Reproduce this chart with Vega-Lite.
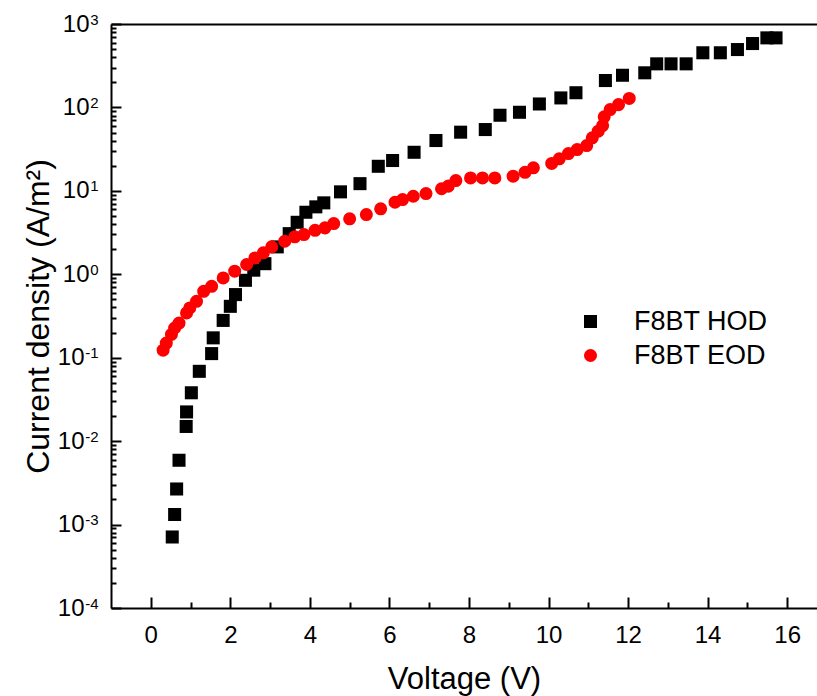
{
  "$schema": "https://vega.github.io/schema/vega-lite/v6.json",
  "width": 706,
  "height": 584,
  "autosize": {"type": "none"},
  "padding": {"left": 111, "top": 24, "right": 0, "bottom": 88},
  "background": "white",
  "config": {
    "view": {"stroke": null},
    "font": "Liberation Sans",
    "axis": {
      "domainColor": "black", "domainWidth": 2, "tickColor": "black", "tickWidth": 2,
      "grid": false, "labelColor": "black", "titleColor": "black",
      "labelFont": "Liberation Sans", "titleFont": "Liberation Sans", "titleFontWeight": "normal"
    }
  },
  "data": {"values": [
    {"series": "F8BT HOD", "V": 0.54, "J": 0.00071},
    {"series": "F8BT HOD", "V": 0.60, "J": 0.00132},
    {"series": "F8BT HOD", "V": 0.65, "J": 0.00267},
    {"series": "F8BT HOD", "V": 0.71, "J": 0.0059},
    {"series": "F8BT HOD", "V": 0.89, "J": 0.015},
    {"series": "F8BT HOD", "V": 0.90, "J": 0.0224},
    {"series": "F8BT HOD", "V": 1.02, "J": 0.038},
    {"series": "F8BT HOD", "V": 1.22, "J": 0.0687},
    {"series": "F8BT HOD", "V": 1.53, "J": 0.112},
    {"series": "F8BT HOD", "V": 1.57, "J": 0.173},
    {"series": "F8BT HOD", "V": 1.82, "J": 0.28},
    {"series": "F8BT HOD", "V": 2.00, "J": 0.413},
    {"series": "F8BT HOD", "V": 2.13, "J": 0.571},
    {"series": "F8BT HOD", "V": 2.38, "J": 0.847},
    {"series": "F8BT HOD", "V": 2.59, "J": 1.12},
    {"series": "F8BT HOD", "V": 2.87, "J": 1.34},
    {"series": "F8BT HOD", "V": 3.18, "J": 2.13},
    {"series": "F8BT HOD", "V": 3.48, "J": 3.07},
    {"series": "F8BT HOD", "V": 3.68, "J": 4.2},
    {"series": "F8BT HOD", "V": 3.90, "J": 5.54},
    {"series": "F8BT HOD", "V": 4.15, "J": 6.43},
    {"series": "F8BT HOD", "V": 4.35, "J": 7.18},
    {"series": "F8BT HOD", "V": 4.77, "J": 9.73},
    {"series": "F8BT HOD", "V": 5.26, "J": 12.2},
    {"series": "F8BT HOD", "V": 5.72, "J": 19.7},
    {"series": "F8BT HOD", "V": 6.08, "J": 23.1},
    {"series": "F8BT HOD", "V": 6.62, "J": 29},
    {"series": "F8BT HOD", "V": 7.17, "J": 40.1},
    {"series": "F8BT HOD", "V": 7.79, "J": 50.5},
    {"series": "F8BT HOD", "V": 8.41, "J": 54.3},
    {"series": "F8BT HOD", "V": 8.78, "J": 80.6},
    {"series": "F8BT HOD", "V": 9.27, "J": 87.5},
    {"series": "F8BT HOD", "V": 9.77, "J": 110},
    {"series": "F8BT HOD", "V": 10.31, "J": 130},
    {"series": "F8BT HOD", "V": 10.69, "J": 150},
    {"series": "F8BT HOD", "V": 11.43, "J": 210},
    {"series": "F8BT HOD", "V": 11.86, "J": 243},
    {"series": "F8BT HOD", "V": 12.42, "J": 260},
    {"series": "F8BT HOD", "V": 12.72, "J": 333},
    {"series": "F8BT HOD", "V": 13.08, "J": 333},
    {"series": "F8BT HOD", "V": 13.46, "J": 333},
    {"series": "F8BT HOD", "V": 13.88, "J": 452},
    {"series": "F8BT HOD", "V": 14.32, "J": 452},
    {"series": "F8BT HOD", "V": 14.75, "J": 494},
    {"series": "F8BT HOD", "V": 15.13, "J": 583},
    {"series": "F8BT HOD", "V": 15.49, "J": 682},
    {"series": "F8BT HOD", "V": 15.72, "J": 682},
    {"series": "F8BT EOD", "V": 0.31, "J": 0.123},
    {"series": "F8BT EOD", "V": 0.39, "J": 0.15},
    {"series": "F8BT EOD", "V": 0.52, "J": 0.19},
    {"series": "F8BT EOD", "V": 0.60, "J": 0.227},
    {"series": "F8BT EOD", "V": 0.71, "J": 0.26},
    {"series": "F8BT EOD", "V": 0.90, "J": 0.344},
    {"series": "F8BT EOD", "V": 0.98, "J": 0.395},
    {"series": "F8BT EOD", "V": 1.15, "J": 0.474},
    {"series": "F8BT EOD", "V": 1.33, "J": 0.625},
    {"series": "F8BT EOD", "V": 1.53, "J": 0.718},
    {"series": "F8BT EOD", "V": 1.82, "J": 0.905},
    {"series": "F8BT EOD", "V": 2.11, "J": 1.09},
    {"series": "F8BT EOD", "V": 2.41, "J": 1.31},
    {"series": "F8BT EOD", "V": 2.62, "J": 1.57},
    {"series": "F8BT EOD", "V": 2.83, "J": 1.81},
    {"series": "F8BT EOD", "V": 3.04, "J": 2.13},
    {"series": "F8BT EOD", "V": 3.37, "J": 2.49},
    {"series": "F8BT EOD", "V": 3.62, "J": 2.81},
    {"series": "F8BT EOD", "V": 3.85, "J": 2.99},
    {"series": "F8BT EOD", "V": 4.13, "J": 3.37},
    {"series": "F8BT EOD", "V": 4.38, "J": 3.6},
    {"series": "F8BT EOD", "V": 4.60, "J": 4.06},
    {"series": "F8BT EOD", "V": 5.00, "J": 4.62},
    {"series": "F8BT EOD", "V": 5.42, "J": 5.2},
    {"series": "F8BT EOD", "V": 5.78, "J": 6.1},
    {"series": "F8BT EOD", "V": 6.14, "J": 7.3},
    {"series": "F8BT EOD", "V": 6.33, "J": 7.87},
    {"series": "F8BT EOD", "V": 6.60, "J": 8.62},
    {"series": "F8BT EOD", "V": 6.92, "J": 9.29},
    {"series": "F8BT EOD", "V": 7.31, "J": 10.6},
    {"series": "F8BT EOD", "V": 7.48, "J": 11.4},
    {"series": "F8BT EOD", "V": 7.67, "J": 13.3},
    {"series": "F8BT EOD", "V": 8.04, "J": 14.3},
    {"series": "F8BT EOD", "V": 8.34, "J": 14.3},
    {"series": "F8BT EOD", "V": 8.65, "J": 14.3},
    {"series": "F8BT EOD", "V": 9.11, "J": 15},
    {"series": "F8BT EOD", "V": 9.41, "J": 16.7},
    {"series": "F8BT EOD", "V": 9.62, "J": 18.9},
    {"series": "F8BT EOD", "V": 10.08, "J": 21.3},
    {"series": "F8BT EOD", "V": 10.27, "J": 24.2},
    {"series": "F8BT EOD", "V": 10.50, "J": 28},
    {"series": "F8BT EOD", "V": 10.72, "J": 31.3},
    {"series": "F8BT EOD", "V": 10.96, "J": 34.9},
    {"series": "F8BT EOD", "V": 11.10, "J": 43.2},
    {"series": "F8BT EOD", "V": 11.25, "J": 51.9},
    {"series": "F8BT EOD", "V": 11.36, "J": 60.7},
    {"series": "F8BT EOD", "V": 11.40, "J": 77.1},
    {"series": "F8BT EOD", "V": 11.55, "J": 94.4},
    {"series": "F8BT EOD", "V": 11.76, "J": 108},
    {"series": "F8BT EOD", "V": 12.03, "J": 128}
  ]},
  "layer": [
    {
      "mark": {"type": "point", "filled": true, "opacity": 1, "size": 170},
      "encoding": {
        "x": {
          "field": "V", "type": "quantitative",
          "scale": {"domain": [-1, 16.75], "nice": false, "zero": false},
          "axis": {
            "orient": "bottom", "values": [0, 2, 4, 6, 8, 10, 12, 14, 16],
            "tickSize": -11, "labelPadding": 26, "labelFontSize": 24,
            "title": "Voltage (V)", "titleFontSize": 31, "titlePadding": 17
          }
        },
        "y": {
          "field": "J", "type": "quantitative",
          "scale": {"type": "log", "domain": [0.0001, 1000], "nice": false},
          "axis": {
            "orient": "left",
            "values": [0.0001, 0.001, 0.01, 0.1, 1, 10, 100, 1000],
            "tickSize": -10,
            "labelPadding": {"condition": {"test": "datum.value < 0.5", "value": 37}, "value": 32},
            "labelFontSize": 24,
            "labelExpr": "'10'",
            "title": "Current density (A/m²)", "titleFontSize": 32, "titlePadding": 2
          }
        },
        "color": {
          "field": "series", "type": "nominal",
          "scale": {"domain": ["F8BT HOD", "F8BT EOD"], "range": ["#000000", "#ff0000"]},
          "legend": {"orient": "none", "legendX": 466, "legendY": 284, "title": null, "labelFontSize": 27, "labelFont": "Liberation Sans", "labelColor": "black", "symbolSize": 170, "labelOffset": 30, "rowPadding": 6, "padding": 0}
        },
        "shape": {
          "field": "series", "type": "nominal",
          "scale": {"domain": ["F8BT HOD", "F8BT EOD"], "range": ["square", "circle"]},
          "legend": {"orient": "none", "legendX": 466, "legendY": 284, "title": null, "labelFontSize": 27, "labelFont": "Liberation Sans", "labelColor": "black", "symbolSize": 170, "labelOffset": 30, "rowPadding": 6, "padding": 0}
        }
      }
    },
    {
      "mark": {"type": "point", "opacity": 0},
      "encoding": {
        "x": {
          "field": "V", "type": "quantitative",
          "axis": {"orient": "bottom", "values": [1, 3, 5, 7, 9, 11, 13, 15], "tickSize": -6, "labels": false, "domain": false, "title": null}
        },
        "y": {
          "field": "J", "type": "quantitative",
          "axis": {
            "orient": "left",
            "values": [0.0002, 0.0003, 0.0004, 0.0005, 0.0006, 0.0007, 0.0008, 0.0009,
                       0.002, 0.003, 0.004, 0.005, 0.006, 0.007, 0.008, 0.009,
                       0.02, 0.03, 0.04, 0.05, 0.06, 0.07, 0.08, 0.09,
                       0.2, 0.3, 0.4, 0.5, 0.6, 0.7, 0.8, 0.9,
                       2, 3, 4, 5, 6, 7, 8, 9,
                       20, 30, 40, 50, 60, 70, 80, 90,
                       200, 300, 400, 500, 600, 700, 800, 900],
            "tickSize": -5, "labels": false, "domain": false, "title": null
          }
        }
      }
    },
    {
      "mark": {"type": "point", "opacity": 0},
      "encoding": {
        "x": {
          "field": "V", "type": "quantitative",
          "axis": {"orient": "top", "ticks": false, "labels": false, "domain": true, "title": null}
        },
        "y": {
          "field": "J", "type": "quantitative",
          "axis": {
            "orient": "left",
            "values": [0.0001, 0.001, 0.01, 0.1, 1, 10, 100, 1000],
            "tickSize": -10, "tickColor": "transparent", "domain": false,
            "labelPadding": 23, "labelFontSize": 15, "labelOffset": -5,
            "labelExpr": "datum.value >= 999 ? '3' : datum.value >= 99 ? '2' : datum.value >= 9 ? '1' : datum.value >= 0.9 ? '0' : datum.value >= 0.09 ? '-1' : datum.value >= 0.009 ? '-2' : datum.value >= 0.0009 ? '-3' : '-4'",
            "title": null
          }
        }
      }
    }
  ],
  "resolve": {"axis": {"x": "independent", "y": "independent"}}
}
